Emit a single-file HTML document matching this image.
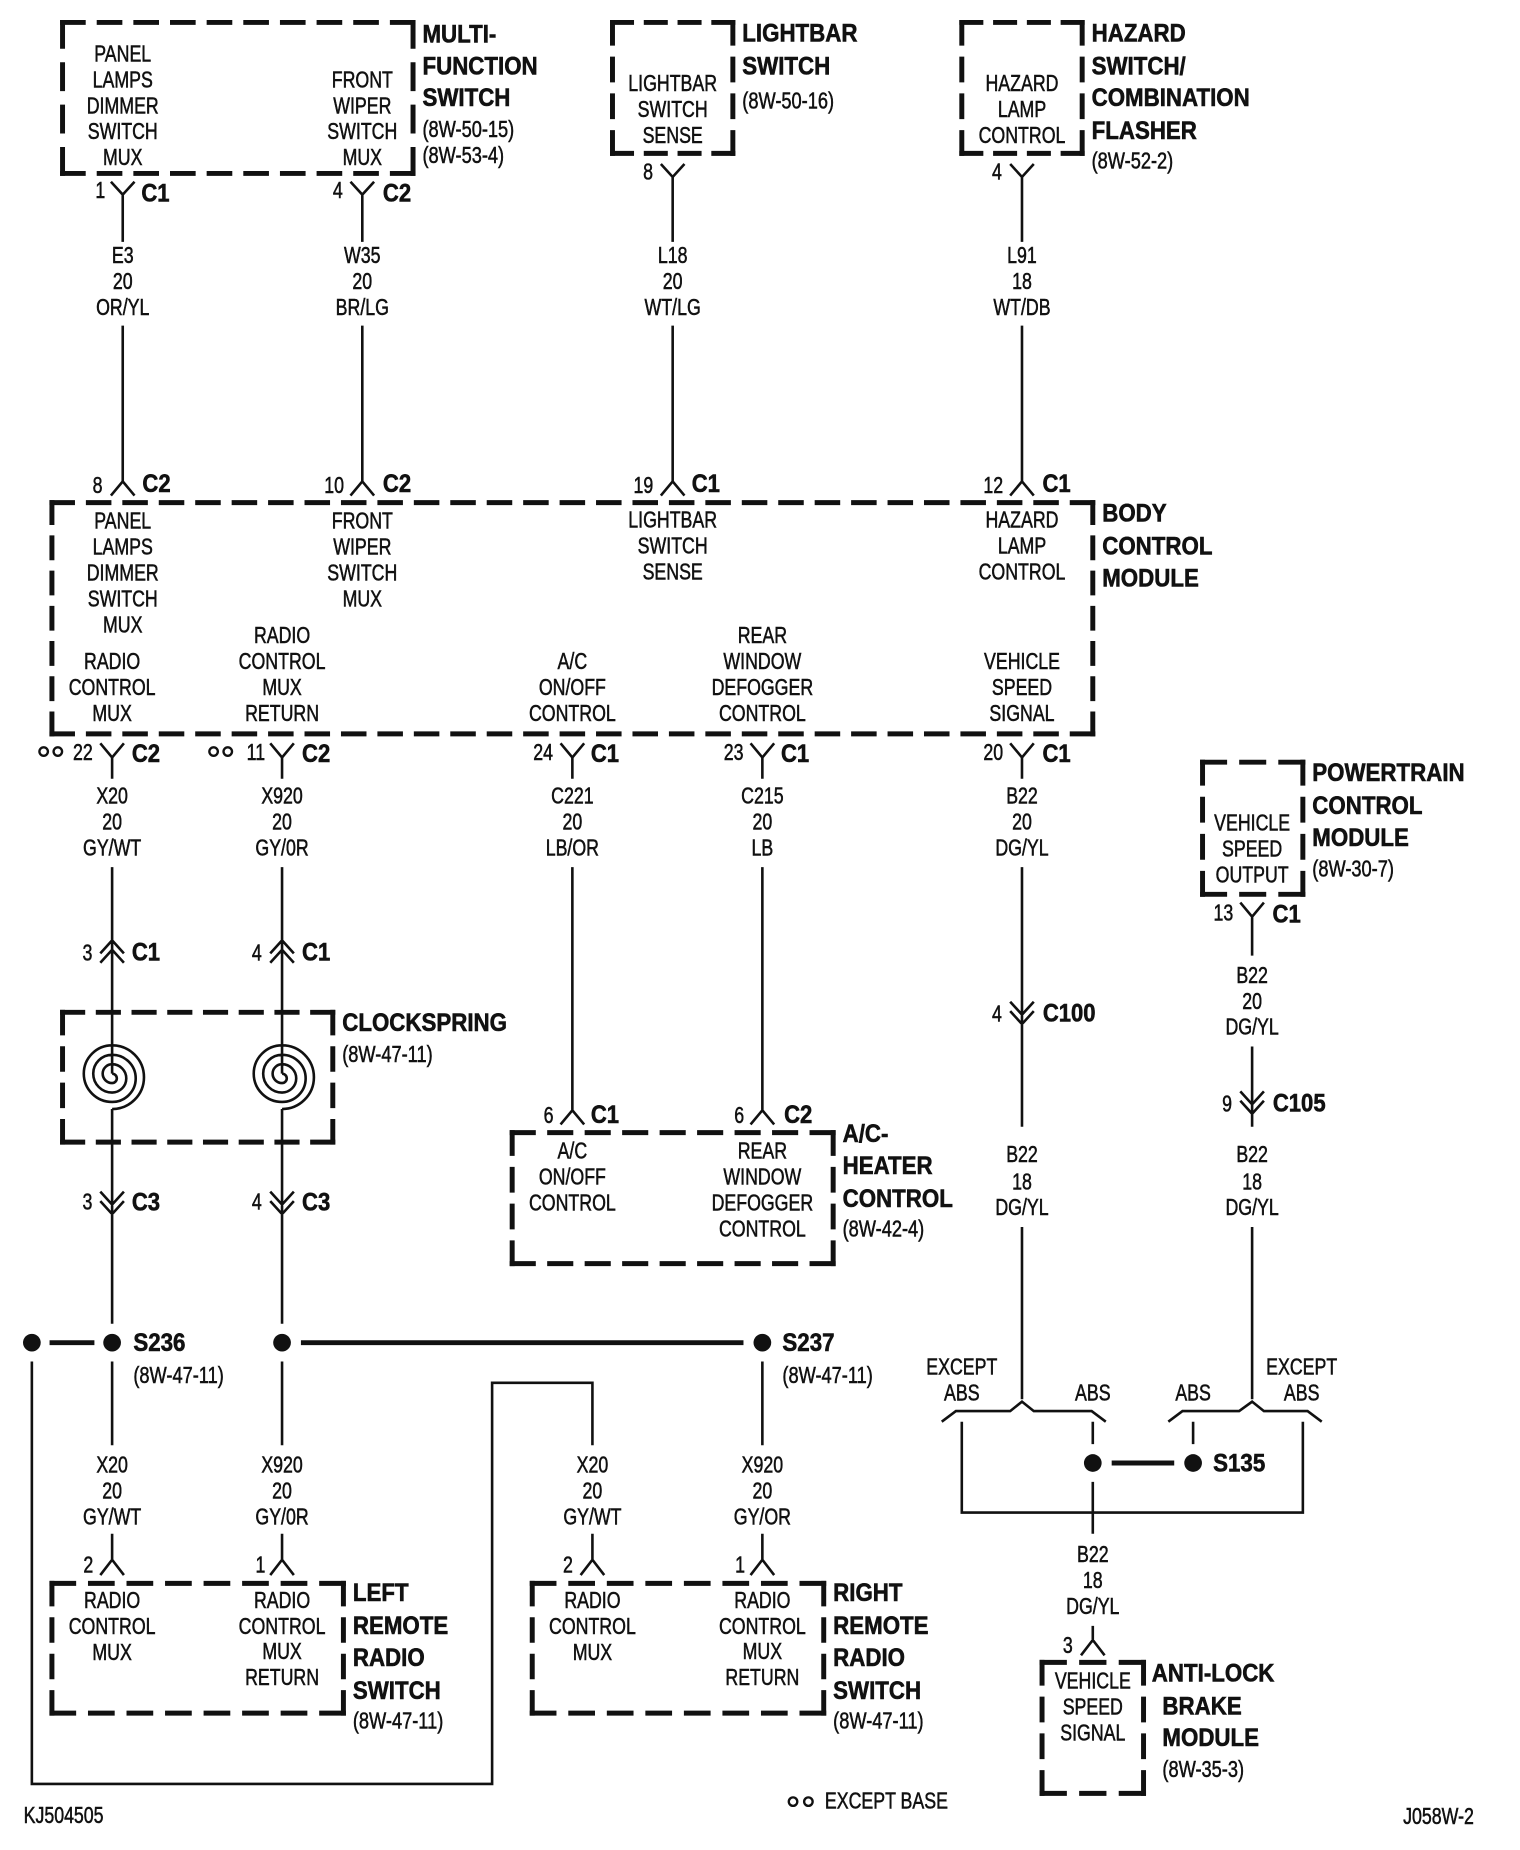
<!DOCTYPE html>
<html><head><meta charset="utf-8"><style>
html,body{margin:0;padding:0;background:#fff}
svg{display:block}
text{font-family:"Liberation Sans",Arial,sans-serif;font-size:19.3px;fill:#111;stroke:#111;stroke-width:.45px;text-anchor:middle}
.b text,text.b{font-weight:bold;font-size:21px;stroke-width:.5px;transform:translateY(-1px)}
.s text,text.s{text-anchor:start}
.w{fill:none;stroke:#111;stroke-width:2.2;stroke-linejoin:miter}
.t{fill:none;stroke:#111;stroke-width:4.2}
.d line{stroke:#111;stroke-width:4.2;stroke-dasharray:17.5 13.5;stroke-linecap:square}
</style></head><body>
<svg width="1520" height="1850" viewBox="0 0 1288 1568" preserveAspectRatio="none" xmlns="http://www.w3.org/2000/svg">
<rect width="1288" height="1568" fill="#fff"/>

<!-- dashed boxes -->
<g class="d">
<line x1="53" y1="19" x2="350" y2="19" pathLength="296.5"/><line x1="53" y1="147" x2="350" y2="147" pathLength="296.5"/><line x1="53" y1="19" x2="53" y2="147" pathLength="110.5"/><line x1="350" y1="19" x2="350" y2="147" pathLength="110.5"/>
<line x1="519" y1="19" x2="621" y2="19" pathLength="110.5"/><line x1="519" y1="130" x2="621" y2="130" pathLength="110.5"/><line x1="519" y1="19" x2="519" y2="130" pathLength="110.5"/><line x1="621" y1="19" x2="621" y2="130" pathLength="110.5"/>
<line x1="815" y1="19" x2="917" y2="19" pathLength="110.5"/><line x1="815" y1="130" x2="917" y2="130" pathLength="110.5"/><line x1="815" y1="19" x2="815" y2="130" pathLength="110.5"/><line x1="917" y1="19" x2="917" y2="130" pathLength="110.5"/>
<line x1="44" y1="426" x2="926" y2="426" pathLength="885.5"/><line x1="44" y1="622" x2="926" y2="622" pathLength="885.5"/><line x1="44" y1="426" x2="44" y2="622" pathLength="203.5"/><line x1="926" y1="426" x2="926" y2="622" pathLength="203.5"/>
<line x1="1019" y1="646" x2="1104" y2="646" pathLength="79.5"/><line x1="1019" y1="758" x2="1104" y2="758" pathLength="79.5"/><line x1="1019" y1="646" x2="1019" y2="758" pathLength="110.5"/><line x1="1104" y1="646" x2="1104" y2="758" pathLength="110.5"/>
<line x1="53" y1="858" x2="282" y2="858" pathLength="234.5"/><line x1="53" y1="968" x2="282" y2="968" pathLength="234.5"/><line x1="53" y1="858" x2="53" y2="968" pathLength="110.5"/><line x1="282" y1="858" x2="282" y2="968" pathLength="110.5"/>
<line x1="434" y1="960" x2="706" y2="960" pathLength="265.5"/><line x1="434" y1="1071" x2="706" y2="1071" pathLength="265.5"/><line x1="434" y1="960" x2="434" y2="1071" pathLength="110.5"/><line x1="706" y1="960" x2="706" y2="1071" pathLength="110.5"/>
<line x1="44" y1="1342" x2="291" y2="1342" pathLength="234.5"/><line x1="44" y1="1452" x2="291" y2="1452" pathLength="234.5"/><line x1="44" y1="1342" x2="44" y2="1452" pathLength="110.5"/><line x1="291" y1="1342" x2="291" y2="1452" pathLength="110.5"/>
<line x1="451" y1="1342" x2="698" y2="1342" pathLength="234.5"/><line x1="451" y1="1452" x2="698" y2="1452" pathLength="234.5"/><line x1="451" y1="1342" x2="451" y2="1452" pathLength="110.5"/><line x1="698" y1="1342" x2="698" y2="1452" pathLength="110.5"/>
<line x1="883" y1="1409" x2="969" y2="1409" pathLength="79.5"/><line x1="883" y1="1520" x2="969" y2="1520" pathLength="79.5"/><line x1="883" y1="1409" x2="883" y2="1520" pathLength="110.5"/><line x1="969" y1="1409" x2="969" y2="1520" pathLength="110.5"/>
</g>

<!-- wires and connectors -->
<path class="w" d="
M94 154L104 165L114 154M104 165V205M104 276V408M94 420L104 408L114 420
M297 154L307 165L317 154M307 165V205M307 276V408M297 420L307 408L317 420
M560 139L570 150L580 139M570 150V205M570 276V408M560 420L570 408L580 420
M856 139L866 150L876 139M866 150V205M866 276V408M856 420L866 408L876 420
M85 630L95 642L105 630M95 642V660M95 735V910M95 940V1122
M229 630L239 642L249 630M239 642V660M239 735V910M239 940V1122
M475 630L485 642L495 630M485 642V660M485 735V941M475 953L485 941L495 953
M636 630L646 642L656 630M646 642V660M646 735V941M636 953L646 941L656 953
M856 630L866 642L876 630M866 642V660M866 735V955M866 1040V1186
M85 808L95 797L105 808M85 816L95 805L105 816
M229 808L239 797L249 808M229 816L239 805L249 816
M85 1010L95 1021L105 1010M85 1018L95 1029L105 1018
M229 1010L239 1021L249 1010M229 1018L239 1029L249 1018
M856 849L866 860L876 849M856 857L866 868L876 857
M1051 765L1061 777L1071 765M1061 777V810M1061 887V955M1061 1040V1186
M1051 925L1061 936L1071 925M1051 933L1061 944L1071 933
M798 1205L810 1196H856L866 1188L876 1196H925L937 1205
M990 1205L1002 1196H1050L1061 1188L1071 1196H1108L1120 1205
M815 1205V1282H1104V1205
M926 1205V1224M926 1256V1300M926 1378V1390M916 1403L926 1390L936 1403
M1011 1205V1224
M27 1154V1512H417V1172H502V1225
M95 1154V1225M239 1154V1225M646 1154V1225
M95 1300V1322M85 1335L95 1322L105 1335
M239 1300V1322M229 1335L239 1322L249 1335
M502 1300V1322M492 1335L502 1322L512 1335
M646 1300V1322M636 1335L646 1322L656 1335
M95 910A4 4 0 0 1 95 918A8 8 0 0 1 95 902A12 12 0 0 1 95 926A16 16 0 0 1 95 894A20 20 0 0 1 95 934A24 24 0 0 1 95 886A27 27 0 0 1 95 940
M239 910A4 4 0 0 1 239 918A8 8 0 0 1 239 902A12 12 0 0 1 239 926A16 16 0 0 1 239 894A20 20 0 0 1 239 934A24 24 0 0 1 239 886A27 27 0 0 1 239 940
"/>
<path class="t" d="M42 1138H80M255 1138H630M942 1240H995"/>
<g fill="#111">
<ellipse cx="27" cy="1138" rx="7.5" ry="7.5"/><ellipse cx="95" cy="1138" rx="7.5" ry="7.5"/><ellipse cx="239" cy="1138" rx="7.5" ry="7.5"/><ellipse cx="646" cy="1138" rx="7.5" ry="7.5"/>
<ellipse cx="926" cy="1240" rx="7.5" ry="7.5"/><ellipse cx="1011" cy="1240" rx="7.5" ry="7.5"/>
</g>
<g fill="none" stroke="#111" stroke-width="2">
<circle cx="37" cy="637" r="3.6"/><circle cx="49" cy="637" r="3.6"/>
<circle cx="181" cy="637" r="3.6"/><circle cx="193" cy="637" r="3.6"/>
<circle cx="672" cy="1527" r="3.6"/><circle cx="685" cy="1527" r="3.6"/>
</g>

<!-- inner labels -->
<g transform="translate(104 0) scale(.78 1)"><text y="52">PANEL</text><text y="74">LAMPS</text><text y="96">DIMMER</text><text y="118">SWITCH</text><text y="140">MUX</text>
<text y="223">E3</text><text y="245">20</text><text y="267">OR/YL</text>
<text y="448">PANEL</text><text y="470">LAMPS</text><text y="492">DIMMER</text><text y="514">SWITCH</text><text y="536">MUX</text></g>
<g transform="translate(307 0) scale(.78 1)"><text y="74">FRONT</text><text y="96">WIPER</text><text y="118">SWITCH</text><text y="140">MUX</text>
<text y="223">W35</text><text y="245">20</text><text y="267">BR/LG</text>
<text y="448">FRONT</text><text y="470">WIPER</text><text y="492">SWITCH</text><text y="514">MUX</text></g>
<g transform="translate(570 0) scale(.78 1)"><text y="77">LIGHTBAR</text><text y="99">SWITCH</text><text y="121">SENSE</text>
<text y="223">L18</text><text y="245">20</text><text y="267">WT/LG</text>
<text y="447">LIGHTBAR</text><text y="469">SWITCH</text><text y="491">SENSE</text></g>
<g transform="translate(866 0) scale(.78 1)"><text y="77">HAZARD</text><text y="99">LAMP</text><text y="121">CONTROL</text>
<text y="223">L91</text><text y="245">18</text><text y="267">WT/DB</text>
<text y="447">HAZARD</text><text y="469">LAMP</text><text y="491">CONTROL</text>
<text y="567">VEHICLE</text><text y="589">SPEED</text><text y="611">SIGNAL</text>
<text y="681">B22</text><text y="703">20</text><text y="725">DG/YL</text>
<text y="985">B22</text><text y="1008">18</text><text y="1030">DG/YL</text></g>
<g transform="translate(95 0) scale(.78 1)"><text y="567">RADIO</text><text y="589">CONTROL</text><text y="611">MUX</text>
<text y="681">X20</text><text y="703">20</text><text y="725">GY/WT</text>
<text y="1248">X20</text><text y="1270">20</text><text y="1292">GY/WT</text>
<text y="1363">RADIO</text><text y="1385">CONTROL</text><text y="1407">MUX</text></g>
<g transform="translate(239 0) scale(.78 1)"><text y="545">RADIO</text><text y="567">CONTROL</text><text y="589">MUX</text><text y="611">RETURN</text>
<text y="681">X920</text><text y="703">20</text><text y="725">GY/0R</text>
<text y="1248">X920</text><text y="1270">20</text><text y="1292">GY/0R</text>
<text y="1363">RADIO</text><text y="1385">CONTROL</text><text y="1406">MUX</text><text y="1428">RETURN</text></g>
<g transform="translate(485 0) scale(.78 1)"><text y="567">A/C</text><text y="589">ON/OFF</text><text y="611">CONTROL</text>
<text y="681">C221</text><text y="703">20</text><text y="725">LB/OR</text>
<text y="982">A/C</text><text y="1004">ON/OFF</text><text y="1026">CONTROL</text></g>
<g transform="translate(646 0) scale(.78 1)"><text y="545">REAR</text><text y="567">WINDOW</text><text y="589">DEFOGGER</text><text y="611">CONTROL</text>
<text y="681">C215</text><text y="703">20</text><text y="725">LB</text>
<text y="982">REAR</text><text y="1004">WINDOW</text><text y="1026">DEFOGGER</text><text y="1048">CONTROL</text>
<text y="1248">X920</text><text y="1270">20</text><text y="1292">GY/OR</text>
<text y="1363">RADIO</text><text y="1385">CONTROL</text><text y="1406">MUX</text><text y="1428">RETURN</text></g>
<g transform="translate(502 0) scale(.78 1)"><text y="1248">X20</text><text y="1270">20</text><text y="1292">GY/WT</text>
<text y="1363">RADIO</text><text y="1385">CONTROL</text><text y="1407">MUX</text></g>
<g transform="translate(1061 0) scale(.78 1)"><text y="704">VEHICLE</text><text y="726">SPEED</text><text y="748">OUTPUT</text>
<text y="833">B22</text><text y="855">20</text><text y="877">DG/YL</text>
<text y="985">B22</text><text y="1008">18</text><text y="1030">DG/YL</text></g>
<g transform="translate(926 0) scale(.78 1)"><text y="1187">ABS</text>
<text y="1324">B22</text><text y="1346">18</text><text y="1368">DG/YL</text>
<text y="1431">VEHICLE</text><text y="1453">SPEED</text><text y="1475">SIGNAL</text></g>
<g transform="translate(815 0) scale(.78 1)"><text y="1165">EXCEPT</text><text y="1187">ABS</text></g>
<g transform="translate(1011 0) scale(.78 1)"><text y="1187">ABS</text></g>
<g transform="translate(1103 0) scale(.78 1)"><text y="1165">EXCEPT</text><text y="1187">ABS</text></g>

<!-- pin numbers -->
<g transform="scale(.78 1)">
<text x="109" y="168">1</text><text x="367" y="168">4</text><text x="704" y="152">8</text><text x="1083" y="152">4</text>
<text x="106" y="418">8</text><text x="363" y="418">10</text><text x="699" y="418">19</text><text x="1079" y="418">12</text>
<text x="90" y="644">22</text><text x="278" y="644">11</text><text x="590" y="644">24</text><text x="797" y="644">23</text><text x="1079" y="644">20</text>
<text x="95" y="814">3</text><text x="279" y="814">4</text><text x="95" y="1025">3</text><text x="279" y="1025">4</text>
<text x="596" y="952">6</text><text x="803" y="952">6</text><text x="1083" y="866">4</text><text x="1333" y="942">9</text><text x="1329" y="780">13</text>
<text x="96" y="1333">2</text><text x="283" y="1333">1</text><text x="617" y="1333">2</text><text x="804" y="1333">1</text><text x="1160" y="1401">3</text>
</g>

<!-- connector names -->
<g class="b" transform="scale(.89 1)">
<text x="148" y="172">C1</text><text x="378" y="172">C2</text>
<text x="149" y="418">C2</text><text x="378" y="418">C2</text><text x="672" y="418">C1</text><text x="1006" y="418">C1</text>
<text x="139" y="647">C2</text><text x="301" y="647">C2</text><text x="576" y="647">C1</text><text x="757" y="647">C1</text><text x="1006" y="647">C1</text>
<text x="139" y="815">C1</text><text x="301" y="815">C1</text><text x="139" y="1027">C3</text><text x="301" y="1027">C3</text>
<text x="576" y="953">C1</text><text x="760" y="953">C2</text>
<text x="1225" y="783">C1</text>
<text x="1018" y="867">C100</text><text x="1237" y="943">C105</text>
</g>

<!-- titles -->
<g class="b s" transform="translate(358 0) scale(.9 1)"><text y="37">MULTI-</text><text y="64">FUNCTION</text><text y="91">SWITCH</text></g>
<g class="b s" transform="translate(629 0) scale(.9 1)"><text y="36">LIGHTBAR</text><text y="64">SWITCH</text></g>
<g class="b s" transform="translate(925 0) scale(.9 1)"><text y="36">HAZARD</text><text y="64">SWITCH/</text><text y="91">COMBINATION</text><text y="119">FLASHER</text></g>
<g class="b s" transform="translate(934 0) scale(.9 1)"><text y="443">BODY</text><text y="471">CONTROL</text><text y="498">MODULE</text></g>
<g class="b s" transform="translate(1112 0) scale(.9 1)"><text y="663">POWERTRAIN</text><text y="691">CONTROL</text><text y="718">MODULE</text></g>
<g class="b s" transform="translate(290 0) scale(.9 1)"><text y="875">CLOCKSPRING</text></g>
<g class="b s" transform="translate(714 0) scale(.9 1)"><text y="969">A/C-</text><text y="996">HEATER</text><text y="1024">CONTROL</text></g>
<g class="b s" transform="translate(113 0) scale(.9 1)"><text y="1146">S236</text></g>
<g class="b s" transform="translate(663 0) scale(.9 1)"><text y="1146">S237</text></g>
<g class="b s" transform="translate(1028 0) scale(.9 1)"><text y="1248">S135</text></g>
<g class="b s" transform="translate(299 0) scale(.9 1)"><text y="1358">LEFT</text><text y="1386">REMOTE</text><text y="1413">RADIO</text><text y="1441">SWITCH</text></g>
<g class="b s" transform="translate(706 0) scale(.9 1)"><text y="1358">RIGHT</text><text y="1386">REMOTE</text><text y="1413">RADIO</text><text y="1441">SWITCH</text></g>
<g class="b s" transform="translate(976 0) scale(.9 1)"><text y="1426">ANTI-LOCK</text></g>
<g class="b s" transform="translate(985 0) scale(.9 1)"><text y="1454">BRAKE</text><text y="1481">MODULE</text></g>

<!-- references -->
<g class="s" transform="translate(358 0) scale(.8 1)"><text y="116">(8W-50-15)</text><text y="138">(8W-53-4)</text></g>
<g class="s" transform="translate(629 0) scale(.8 1)"><text y="92">(8W-50-16)</text></g>
<g class="s" transform="translate(925 0) scale(.8 1)"><text y="143">(8W-52-2)</text></g>
<g class="s" transform="translate(1112 0) scale(.8 1)"><text y="743">(8W-30-7)</text></g>
<g class="s" transform="translate(290 0) scale(.8 1)"><text y="900">(8W-47-11)</text></g>
<g class="s" transform="translate(714 0) scale(.8 1)"><text y="1048">(8W-42-4)</text></g>
<g class="s" transform="translate(113 0) scale(.8 1)"><text y="1172">(8W-47-11)</text></g>
<g class="s" transform="translate(663 0) scale(.8 1)"><text y="1172">(8W-47-11)</text></g>
<g class="s" transform="translate(299 0) scale(.8 1)"><text y="1465">(8W-47-11)</text></g>
<g class="s" transform="translate(706 0) scale(.8 1)"><text y="1465">(8W-47-11)</text></g>
<g class="s" transform="translate(985 0) scale(.8 1)"><text y="1506">(8W-35-3)</text></g>
<g class="s" transform="translate(699 0) scale(.78 1)"><text y="1533">EXCEPT BASE</text></g>
<g class="s" transform="translate(20 0) scale(.78 1)"><text y="1545">KJ504505</text></g>
<g class="s" transform="translate(1189 0) scale(.78 1)"><text y="1546">J058W-2</text></g>
</svg>
</body></html>
